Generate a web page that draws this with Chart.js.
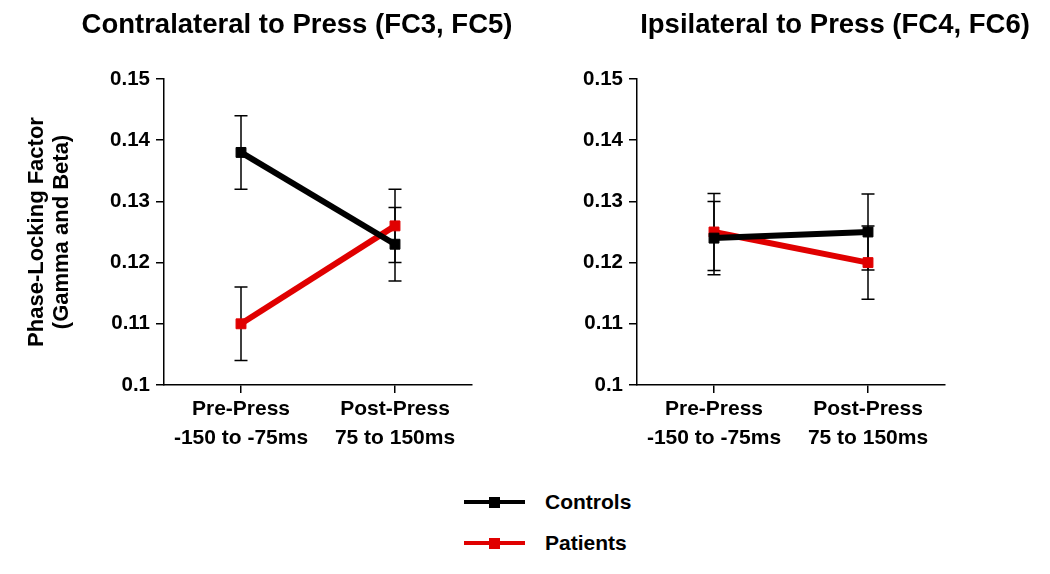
<!DOCTYPE html>
<html><head><meta charset="utf-8">
<script src="https://cdn.jsdelivr.net/npm/chart.js@4/dist/chart.umd.min.js"></script>
<style>
html,body{margin:0;padding:0;background:#fff;width:1050px;height:574px;overflow:hidden;position:relative;font-family:"Liberation Sans",Arial,sans-serif;}
canvas{position:absolute;top:0;}
#c1{left:0}
#c2{left:525px}
.leg{position:absolute;left:464px;height:30px;display:flex;align-items:center;font-weight:bold;font-size:21px;color:#000;}
.sw{position:relative;width:61px;height:4px;margin-right:20px;}
.mk{position:absolute;left:25px;top:-3.5px;width:11px;height:11px;}
</style>
</head><body>
<canvas id="c1" width="525" height="470"></canvas>
<canvas id="c2" width="525" height="470"></canvas>
<div id="legend"></div>
<script>
// ---- data ----
const categories = [['Pre-Press', '-150 to -75ms'], ['Post-Press', '75 to 150ms']];
const seriesNames = ['Controls', 'Patients'];
const seriesColors = ['#000000', '#e00000'];
const yTickLabels = ['0.1', '0.11', '0.12', '0.13', '0.14', '0.15'];
const yTitleLines = ['Phase-Locking Factor', '(Gamma and Beta)'];
const panelTitles = ['Contralateral to Press (FC3, FC5)', 'Ipsilateral to Press (FC4, FC6)'];

const contraControls = [0.138, 0.123];
const contraControlsErr = [0.006, 0.006];
const contraPatients = [0.110, 0.126];
const contraPatientsErr = [0.006, 0.006];

const ipsiControls = [0.124, 0.125];
const ipsiControlsErr = [0.006, 0.0062];
const ipsiPatients = [0.125, 0.120];
const ipsiPatientsErr = [0.0063, 0.006];

const FONT = '"Liberation Sans", Arial, sans-serif';

const errorBarPlugin = {
  id: 'errorBars',
  beforeDatasetsDraw(chart) {
    const ctx = chart.ctx;
    const ys = chart.scales.y;
    ctx.save();
    ctx.strokeStyle = '#000';
    ctx.lineWidth = 1.5;
    chart.data.datasets.forEach((ds, i) => {
      const meta = chart.getDatasetMeta(i);
      meta.data.forEach((pt, j) => {
        const v = ds.data[j], e = ds.errors[j];
        const yt = ys.getPixelForValue(v + e), yb = ys.getPixelForValue(v - e);
        const x = pt.x, hw = 6.5;
        ctx.beginPath();
        ctx.moveTo(x, yt); ctx.lineTo(x, yb);
        ctx.moveTo(x - hw, yt); ctx.lineTo(x + hw, yt);
        ctx.moveTo(x - hw, yb); ctx.lineTo(x + hw, yb);
        ctx.stroke();
      });
    });
    ctx.restore();
  }
};

const panelTitlePlugin = {
  id: 'panelTitle',
  afterDraw(chart, args, opts) {
    const ctx = chart.ctx;
    ctx.save();
    ctx.font = 'bold 27.5px ' + FONT;
    ctx.fillStyle = '#000';
    ctx.textAlign = 'center';
    ctx.textBaseline = 'alphabetic';
    ctx.fillText(opts.text, opts.x, opts.y);
    ctx.restore();
  }
};

function makeChart(id, title, titleX, ctrl, ctrlErr, pat, patErr, yAxisWidth, showYTitle, padRight) {
  return new Chart(document.getElementById(id), {
    type: 'line',
    data: {
      labels: categories,
      datasets: [
        { label: seriesNames[0], data: ctrl, errors: ctrlErr, borderColor: seriesColors[0], backgroundColor: seriesColors[0], pointBackgroundColor: seriesColors[0], pointBorderColor: seriesColors[0] },
        { label: seriesNames[1], data: pat, errors: patErr, borderColor: seriesColors[1], backgroundColor: seriesColors[1], pointBackgroundColor: seriesColors[1], pointBorderColor: seriesColors[1] }
      ]
    },
    options: {
      responsive: false,
      animation: false,
      events: [],
      layout: { padding: { left: 0, right: padRight, top: 79, bottom: 0 } },
      elements: {
        line: { borderWidth: 6, tension: 0, borderCapStyle: 'butt' },
        point: { pointStyle: 'rect', radius: 7, borderWidth: 1, hoverRadius: 7 }
      },
      plugins: {
        legend: { display: false },
        tooltip: { enabled: false },
        title: { display: false },
        panelTitle: { text: title, x: titleX, y: 33 }
      },
      scales: {
        x: {
          type: 'category',
          offset: true,
          ticks: { color: '#000', font: { family: FONT, size: 21, weight: 'bold', lineHeight: 1.36 }, padding: 2, maxRotation: 0 },
          grid: { display: true, drawOnChartArea: false, color: '#000', lineWidth: 1.5, tickLength: 8 },
          border: { display: true, color: '#000', width: 1.5 },
          afterFit: s => { s.height = 85; }
        },
        y: {
          min: 0.1, max: 0.15,
          ticks: { stepSize: 0.01, color: '#000', font: { family: FONT, size: 20.5, weight: 'bold' }, padding: 6,
                   callback: (v, i) => yTickLabels[i] },
          grid: { display: true, drawOnChartArea: false, color: '#000', lineWidth: 1.5, tickLength: 8 },
          border: { display: true, color: '#000', width: 1.5 },
          title: { display: showYTitle, text: yTitleLines, color: '#000',
                   font: { family: FONT, size: 22, weight: 'bold', lineHeight: 1.15 }, padding: { top: 24, bottom: 0 } },
          afterFit: s => { s.width = yAxisWidth; }
        }
      }
    },
    plugins: [errorBarPlugin, panelTitlePlugin]
  });
}

makeChart('c1', panelTitles[0], 297, contraControls, contraControlsErr, contraPatients, contraPatientsErr, 164, true, 53);
makeChart('c2', panelTitles[1], 310, ipsiControls, ipsiControlsErr, ipsiPatients, ipsiPatientsErr, 112, false, 105);

// legend
const legendTops = [487, 528];
const legend = document.getElementById('legend');
seriesNames.forEach((name, i) => {
  const item = document.createElement('div');
  item.className = 'leg';
  item.style.top = legendTops[i] + 'px';
  const sw = document.createElement('div');
  sw.className = 'sw';
  sw.style.background = seriesColors[i];
  const mk = document.createElement('div');
  mk.className = 'mk';
  mk.style.background = seriesColors[i];
  sw.appendChild(mk);
  const tx = document.createElement('span');
  tx.textContent = name;
  item.appendChild(sw);
  item.appendChild(tx);
  legend.appendChild(item);
});
</script>
</body></html>
